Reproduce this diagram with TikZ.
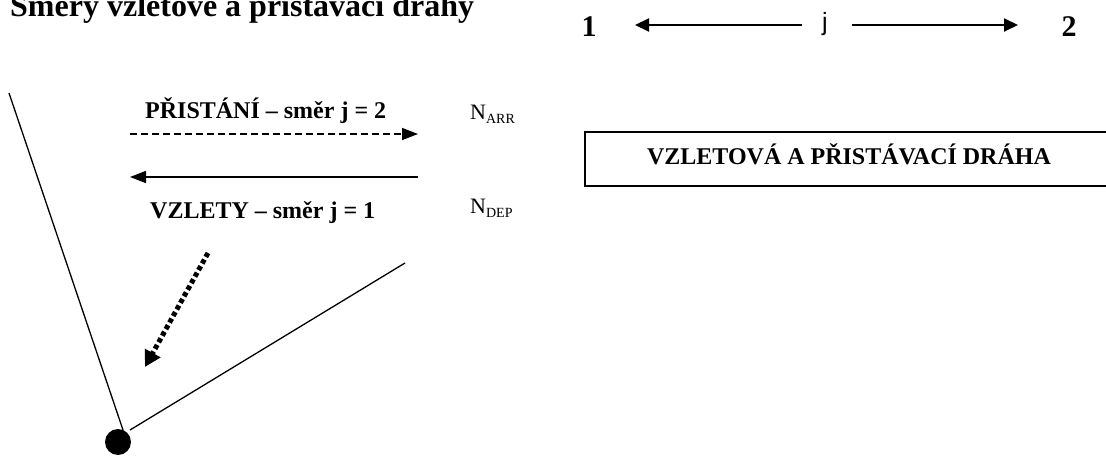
\documentclass[tikz,border=0pt]{standalone}
\usepackage{fontspec}
\setmainfont{Liberation Serif}
\newfontfamily\arialfont{Liberation Sans}
\usetikzlibrary{arrows.meta}
\tikzset{
  txt/.style={inner sep=0pt, anchor=base west},
  thinline/.style={line width=1.3pt},
  toparrow/.style={line width=2pt, -{Triangle[length=14pt,width=13pt]}},
  midarrow/.style={line width=1.6pt, -{Triangle[length=16pt,width=12pt]}},
  dotarrow/.style={line width=5pt, dash pattern=on 4.5pt off 3pt, -{Triangle[length=16pt,width=17pt]}},
}
\begin{document}
\begin{tikzpicture}[x=1pt,y=-1pt]
\useasboundingbox (0,0) rectangle (1106,457);
% title
\node[txt, font=\fontsize{32}{36}\selectfont\bfseries] (title) at (10,17) {Směry vzletové a přistávací dráhy};
% top direction legend
\node[inner sep=0pt, anchor=base, font=\fontsize{30}{34}\selectfont\bfseries] (one) at (589,37) {1};
\node[inner sep=0pt, anchor=base, font=\fontsize{30}{34}\selectfont\bfseries] (two) at (1069,37) {2};
\node[inner sep=0pt, anchor=base, font=\fontsize{25}{28}\selectfont\arialfont] (j) at (825,31) {j};
\coordinate (l1) at (802,25);
\coordinate (l2) at (635,25);
\coordinate (r1) at (852,25);
\coordinate (r2) at (1018,25);
\draw[toparrow] (l1) -- (l2);
\draw[toparrow] (r1) -- (r2);
% runway box
\node[draw, line width=2pt, minimum width=528pt, minimum height=54pt, inner sep=0pt,
      text height=12pt, text depth=0pt, font=\fontsize{24}{28}\selectfont\bfseries] (runway) at (849,159) {VZLETOVÁ A PŘISTÁVACÍ DRÁHA};
% middle arrows
\node[txt, font=\fontsize{24}{28}\selectfont\bfseries] (arr) at (145,119) {PŘISTÁNÍ – směr j = 2};
\node[txt, font=\fontsize{24}{28}\selectfont\bfseries] (dep) at (150,219) {VZLETY – směr j = 1};
\node[txt, font=\fontsize{22}{26}\selectfont] (narr) at (470,120) {N\raisebox{-4pt}{\fontsize{14}{16}\selectfont ARR}};
\node[txt, font=\fontsize{22}{26}\selectfont] (ndep) at (470,214) {N\raisebox{-4pt}{\fontsize{14}{16}\selectfont DEP}};
\coordinate (a1) at (130,134);
\coordinate (a2) at (418,134);
\coordinate (d1) at (418,177);
\coordinate (d2) at (130,177);
\draw[midarrow, dash pattern=on 7pt off 4pt] (a1) -- (a2);
\draw[midarrow] (d1) -- (d2);
% geometry
\node[circle, fill=black, inner sep=0pt, minimum size=26pt] (dot) at (118,442) {};
\coordinate (la) at (9,93);
\coordinate (lb) at (123,430);
\coordinate (ra) at (405,263);
\coordinate (rb) at (130,430);
\draw[thinline] (la) -- (lb);
\draw[thinline] (ra) -- (rb);
\coordinate (p1) at (208,253);
\coordinate (p2) at (145,367);
\draw[dotarrow] (p1) -- (p2);
\end{tikzpicture}
\end{document}
